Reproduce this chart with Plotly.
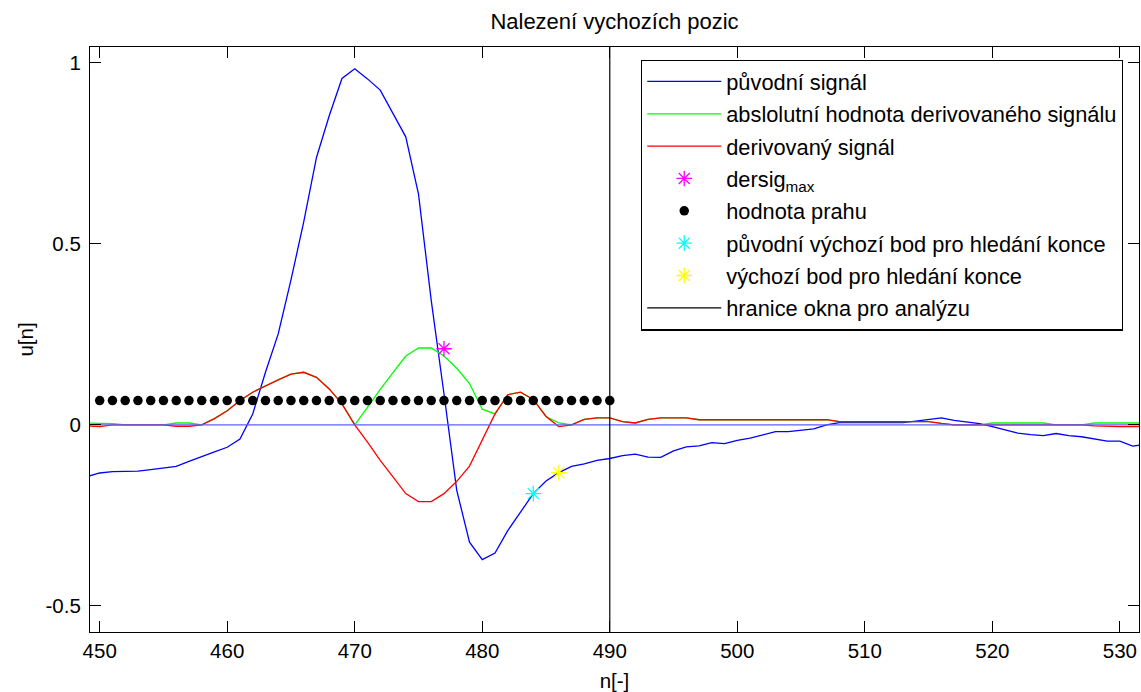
import plotly.graph_objects as go

# Sample index n
n = list(range(449, 533))

# Original signal u[n]
signal = [
    -0.143, -0.133, -0.129, -0.128, -0.128, -0.124, -0.120, -0.115, -0.101, -0.087,  # 449-458
    -0.075, -0.062, -0.039, 0.030, 0.145, 0.251, 0.400, 0.560, 0.738, 0.853,         # 459-468
    0.956, 0.983, 0.955, 0.924, 0.860, 0.795, 0.637, 0.343, 0.085, -0.181,           # 469-478
    -0.324, -0.372, -0.354, -0.292, -0.241, -0.190, -0.155, -0.132, -0.115, -0.108,  # 479-488
    -0.098, -0.093, -0.085, -0.081, -0.089, -0.090, -0.072, -0.061, -0.058, -0.049,  # 489-498
    -0.052, -0.043, -0.037, -0.028, -0.019, -0.019, -0.016, -0.011, 0.000, 0.006,    # 499-508
    0.006, 0.006, 0.006, 0.008, 0.006, 0.010, 0.015, 0.019, 0.012, 0.008,            # 509-518
    0.003, -0.005, -0.014, -0.023, -0.027, -0.030, -0.024, -0.030, -0.033, -0.038,   # 519-528
    -0.045, -0.045, -0.059, -0.054,                                                  # 529-532
]

# Derivative of the signal
derivative = [
    -0.003, -0.005, 0.000, 0.000, 0.000, 0.000, 0.000, -0.004, -0.004, 0.000,        # 449-458
    0.017, 0.039, 0.067, 0.090, 0.108, 0.124, 0.140, 0.145, 0.131, 0.099,            # 459-468
    0.058, 0.000, -0.048, -0.098, -0.144, -0.190, -0.212, -0.212, -0.190, -0.156,    # 469-478
    -0.114, -0.043, 0.030, 0.083, 0.090, 0.070, 0.023, -0.005, 0.000, 0.015,         # 479-488
    0.019, 0.019, 0.009, 0.005, 0.015, 0.019, 0.019, 0.019, 0.014, 0.014,            # 489-498
    0.014, 0.014, 0.014, 0.014, 0.014, 0.014, 0.014, 0.014, 0.014, 0.009,            # 499-508
    0.009, 0.009, 0.009, 0.009, 0.009, 0.009, 0.009, 0.004, 0.000, 0.000,            # 509-518
    0.000, -0.002, -0.002, -0.002, -0.002, -0.002, 0.000, 0.000, 0.000, -0.003,      # 519-528
    -0.005, -0.005, -0.005, -0.005,                                                  # 529-532
]

# Absolute value of the derivative
abs_derivative = [
    0.005, 0.005, 0.003, 0.000, 0.000, 0.000, 0.000, 0.005, 0.005, 0.000,            # 449-458
    0.017, 0.039, 0.067, 0.090, 0.108, 0.124, 0.140, 0.145, 0.131, 0.099,            # 459-468
    0.058, 0.000, 0.048, 0.098, 0.144, 0.190, 0.212, 0.212, 0.190, 0.156,            # 469-478
    0.114, 0.043, 0.030, 0.083, 0.090, 0.070, 0.023, 0.005, 0.000, 0.015,            # 479-488
    0.019, 0.019, 0.009, 0.005, 0.015, 0.019, 0.019, 0.019, 0.014, 0.014,            # 489-498
    0.014, 0.014, 0.014, 0.014, 0.014, 0.014, 0.014, 0.014, 0.014, 0.009,            # 499-508
    0.009, 0.009, 0.009, 0.009, 0.009, 0.009, 0.009, 0.004, 0.000, 0.000,            # 509-518
    0.000, 0.005, 0.005, 0.005, 0.005, 0.005, 0.000, 0.000, 0.000, 0.005,            # 519-528
    0.005, 0.005, 0.005, 0.005,                                                      # 529-532
]

# Zero reference line
zero_line = [0.0] * len(n)

# Maximum of the derivative
dersig_max_n = [477]
dersig_max_val = [0.21]

# Threshold samples
threshold_n = list(range(450, 491))
threshold_val = [0.067] * len(threshold_n)

# Starting points for the end search
orig_start_n = [484]
orig_start_val = [-0.19]
start_n = [486]
start_val = [-0.132]

# Analysis window boundary
window_end = 490

x_range = [449.24, 531.5]
y_range = [-0.572, 1.043]
x_ticks = [450, 460, 470, 480, 490, 500, 510, 520, 530]
y_ticks = [-0.5, 0, 0.5, 1]
y_tick_text = ["-0.5", "0", "0.5", "1"]

FONT = "Liberation Sans, Arial, sans-serif"

fig = go.Figure()

fig.add_trace(go.Scatter(
    x=n, y=signal, mode="lines", name="původní signál",
    line=dict(color="#0000ff", width=1.3), legendgroup="a",
))
fig.add_trace(go.Scatter(
    x=n, y=abs_derivative, mode="lines",
    name="abslolutní hodnota derivovaného signálu",
    line=dict(color="#00ff00", width=1.3), legendgroup="b",
))
fig.add_trace(go.Scatter(
    x=n, y=derivative, mode="lines", name="derivovaný signál",
    line=dict(color="#ff0000", width=1.3), legendgroup="c",
))
fig.add_trace(go.Scatter(
    x=n, y=zero_line, mode="lines", showlegend=False,
    line=dict(color="#5f5fff", width=1.3), hoverinfo="skip",
))
fig.add_trace(go.Scatter(
    x=dersig_max_n, y=dersig_max_val, mode="markers",
    name="dersig<sub>max</sub>",
    marker=dict(symbol="asterisk-open", size=13, color="#ff00ff",
                line=dict(color="#ff00ff", width=1.3)),
    legendgroup="d",
))
fig.add_trace(go.Scatter(
    x=threshold_n, y=threshold_val, mode="markers", name="hodnota prahu",
    marker=dict(symbol="circle", size=9.5, color="#000000"),
    legendgroup="e",
))
fig.add_trace(go.Scatter(
    x=orig_start_n, y=orig_start_val, mode="markers",
    name="původní výchozí bod pro hledání konce",
    marker=dict(symbol="asterisk-open", size=13, color="#00ffff",
                line=dict(color="#00ffff", width=1.3)),
    legendgroup="f",
))
fig.add_trace(go.Scatter(
    x=start_n, y=start_val, mode="markers",
    name="výchozí bod pro hledání konce",
    marker=dict(symbol="asterisk-open", size=13, color="#ffff00",
                line=dict(color="#ffff00", width=1.3)),
    legendgroup="g",
))
fig.add_trace(go.Scatter(
    x=[window_end, window_end], y=[y_range[0] - 1, y_range[1] + 1],
    mode="lines", name="hranice okna pro analýzu",
    line=dict(color="#000000", width=1.2), legendgroup="h",
))

axis_common = dict(
    showline=True, linecolor="#000000", linewidth=1.2, mirror="ticks",
    ticks="inside", ticklen=11, tickcolor="#000000", tickwidth=1,
    showgrid=False, zeroline=False,
    tickfont=dict(family=FONT, size=20.5, color="#000000"),
)

fig.update_layout(
    width=1141, height=692,
    margin=dict(l=90, r=2, t=47, b=60),
    paper_bgcolor="#ffffff", plot_bgcolor="#ffffff",
    font=dict(family=FONT, color="#000000"),
    title=dict(
        text="Nalezení vychozích pozic",
        font=dict(family=FONT, size=22, color="#000000"),
        x=0.5, xref="paper", xanchor="center",
        y=1 - 21 / 692, yanchor="middle",
    ),
    xaxis=dict(
        range=x_range, tickvals=x_ticks,
        title=dict(text="n[-]", font=dict(family=FONT, size=20.5), standoff=12),
        ticklabelstandoff=0,
        **axis_common,
    ),
    yaxis=dict(
        range=y_range, tickvals=y_ticks, ticktext=y_tick_text,
        title=dict(text="u[n]", font=dict(family=FONT, size=20.5), standoff=6),
        ticklabelstandoff=4,
        **axis_common,
    ),
    legend=dict(
        x=0.5253, y=0.9785, xanchor="left", yanchor="top",
        bgcolor="#ffffff", bordercolor="#000000", borderwidth=1.2,
        font=dict(family=FONT, size=21.8, color="#000000"),
        tracegroupgap=1, itemwidth=74,
    ),
    showlegend=True,
)

fig.write_html("out.html")
